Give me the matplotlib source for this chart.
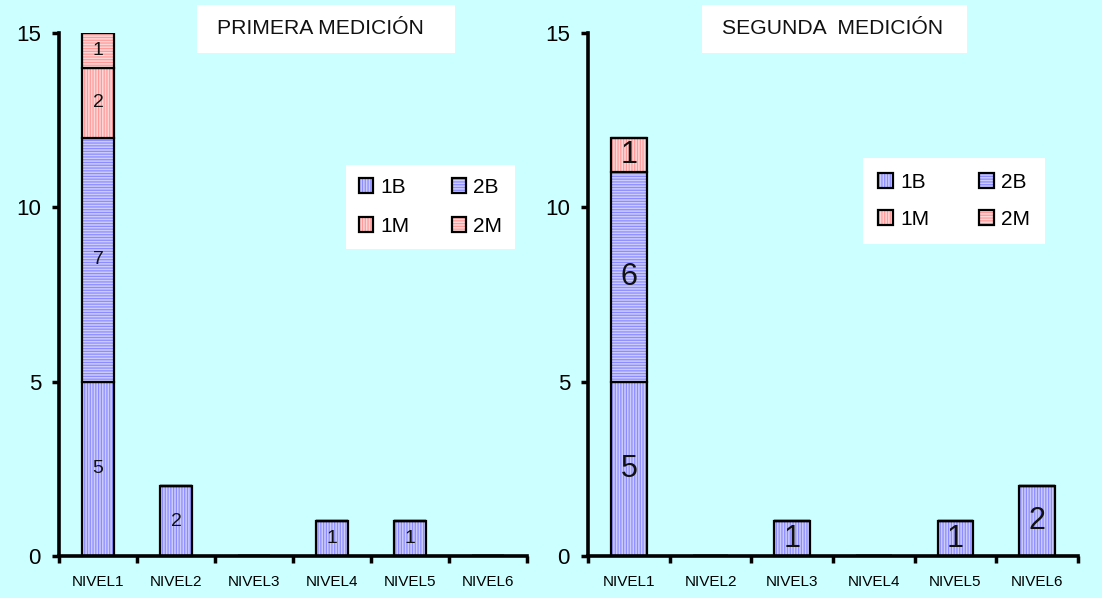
import matplotlib
matplotlib.use("Agg")
import matplotlib.pyplot as plt
from matplotlib.patches import Rectangle
from matplotlib.legend_handler import HandlerTuple
import numpy as np

# ---- data ----
categories = ["NIVEL1", "NIVEL2", "NIVEL3", "NIVEL4", "NIVEL5", "NIVEL6"]
series_names = ["1B", "2B", "1M", "2M"]

primera_1B = [5, 2, 0, 1, 1, 0]
primera_2B = [7, 0, 0, 0, 0, 0]
primera_1M = [2, 0, 0, 0, 0, 0]
primera_2M = [1, 0, 0, 0, 0, 0]

segunda_1B = [5, 0, 1, 0, 1, 2]
segunda_2B = [6, 0, 0, 0, 0, 0]
segunda_1M = [1, 0, 0, 0, 0, 0]
segunda_2M = [0, 0, 0, 0, 0, 0]

title_primera = "PRIMERA MEDICIÓN"
title_segunda = "SEGUNDA  MEDICIÓN"
y_ticks = [0, 5, 10, 15]

# ---- styling ----
BG = "#ccffff"
styles = {
    "1B": dict(face="#ccccff", stripe="#8c8cff", hatch="||||||"),
    "2B": dict(face="#ccccff", stripe="#8c8cff", hatch="------"),
    "1M": dict(face="#ffd6d6", stripe="#ff9a9a", hatch="||||||"),
    "2M": dict(face="#ffd6d6", stripe="#ff9a9a", hatch="------"),
}

plt.rcParams["font.family"] = ["Liberation Sans", "DejaVu Sans"]
plt.rcParams["hatch.linewidth"] = 0.9

W, H = 1102, 598
fig = plt.figure(figsize=(W / 100, H / 100), dpi=100, facecolor=BG)


def px_rect(x0, y0, x1, y1):
    """Figure-fraction [left, bottom, width, height] from pixel box (top-left origin)."""
    return [x0 / W, 1 - y1 / H, (x1 - x0) / W, (y1 - y0) / H]


def draw_panel(ax, data, bar_width, label_size, title, title_box, title_xy,
               legend_xy, legend_kw):
    ax.set_facecolor(BG)
    x = np.arange(len(categories)) + 0.5
    bottom = np.zeros(len(categories))
    handles = {}
    for name, vals in zip(series_names, data):
        vals = np.asarray(vals, dtype=float)
        st = styles[name]
        fill = ax.bar(x, vals, bar_width, bottom=bottom, color=st["face"],
                      edgecolor=st["stripe"], hatch=st["hatch"], linewidth=0)
        outline = ax.bar(x, vals, bar_width, bottom=bottom, fill=False,
                         edgecolor="black", linewidth=1.6)
        ax.bar_label(outline, labels=[f"{int(v)}" if v > 0 else "" for v in vals],
                     label_type="center", fontsize=label_size,
                     color="#111111")
        handles[name] = (fill.patches[0], outline.patches[0])
        bottom += vals

    ax.set_xlim(0, len(categories))
    ax.set_ylim(0, 15)
    ax.set_yticks(y_ticks)
    ax.set_yticklabels([str(t) for t in y_ticks])
    ax.set_xticks(np.arange(len(categories) + 1))
    ax.set_xticklabels([])
    ax.set_xticks(x, minor=True)
    ax.set_xticklabels(categories, minor=True)
    ax.tick_params(axis="x", which="minor", length=0, pad=14, labelsize=11)
    ax.tick_params(axis="x", which="major", direction="out", length=5, width=2.5)
    ax.tick_params(axis="y", direction="out", length=5, width=2.5, pad=8,
                   labelsize=16)
    for s in ("top", "right"):
        ax.spines[s].set_visible(False)
    for s in ("left", "bottom"):
        ax.spines[s].set_linewidth(2.6)

    # title in a white box
    fig.patches.append(Rectangle((title_box[0] / W, 1 - title_box[3] / H),
                                 (title_box[2] - title_box[0]) / W,
                                 (title_box[3] - title_box[1]) / H,
                                 transform=fig.transFigure, facecolor="white",
                                 edgecolor="none", zorder=3))
    fig.text(title_xy[0] / W, 1 - title_xy[1] / H, title, fontsize=15.2,
             ha="left", va="center", color="#111111", zorder=4)

    # legend rows: 1B 2B / 1M 2M (legend fills column by column)
    order = ["1B", "1M", "2B", "2M"]
    leg = ax.legend([handles[n] for n in order], order, ncol=2, loc="upper left",
                    bbox_to_anchor=(legend_xy[0] / W, 1 - legend_xy[1] / H),
                    bbox_transform=fig.transFigure,
                    handler_map={tuple: HandlerTuple(ndivide=1, pad=0)},
                    fontsize=15, frameon=True, fancybox=False, framealpha=1,
                    facecolor="white", edgecolor="none", borderaxespad=0,
                    **legend_kw)
    leg.get_frame().set_linewidth(0)
    return leg


ax1 = fig.add_axes(px_rect(59, 33, 527, 556))
ax2 = fig.add_axes(px_rect(588, 33, 1078, 556))

draw_panel(ax1, [primera_1B, primera_2B, primera_1M, primera_2M], 0.41, 14,
           title_primera, (197, 5, 455, 53), (217, 29), (346, 165),
           dict(handlelength=0.7, handleheight=0.7, handletextpad=0.35,
                columnspacing=2.0, labelspacing=0.95, borderpad=0.62))
draw_panel(ax2, [segunda_1B, segunda_2B, segunda_1M, segunda_2M], 0.44, 22,
           title_segunda, (702, 5, 967, 53), (722, 29), (863, 158),
           dict(handlelength=0.7, handleheight=0.7, handletextpad=0.35,
                columnspacing=2.4, labelspacing=0.85, borderpad=0.72))

fig.savefig("out.png", dpi=100, facecolor=BG)
